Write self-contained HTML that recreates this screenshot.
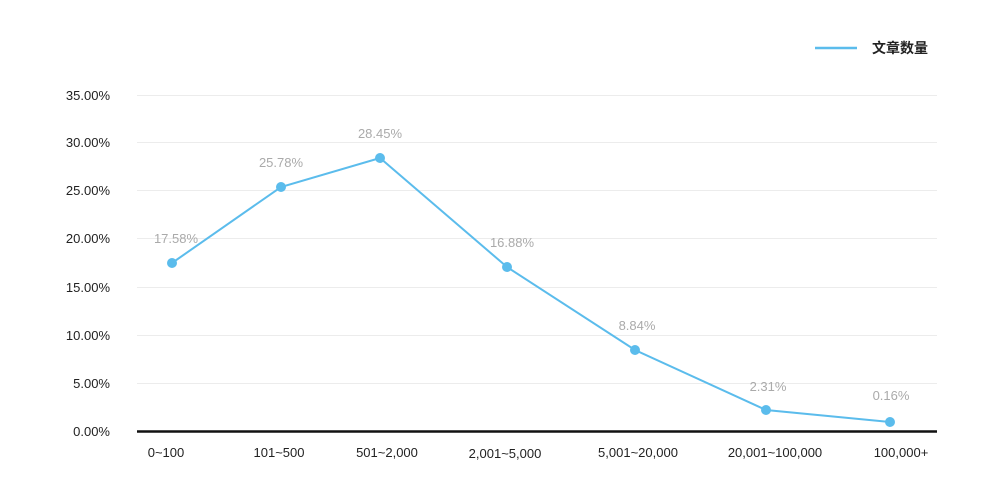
<!DOCTYPE html>
<html><head><meta charset="utf-8"><style>
html,body{margin:0;padding:0;background:#fff;}
svg{display:block}
text{font-family:"Liberation Sans","Noto Sans CJK SC",sans-serif;}
</style></head><body>
<svg width="1000" height="500" xmlns="http://www.w3.org/2000/svg">
<g stroke="#ececec" stroke-width="1">
<line x1="137" y1="95.5" x2="937" y2="95.5"/>
<line x1="137" y1="142.5" x2="937" y2="142.5"/>
<line x1="137" y1="190.5" x2="937" y2="190.5"/>
<line x1="137" y1="238.5" x2="937" y2="238.5"/>
<line x1="137" y1="287.5" x2="937" y2="287.5"/>
<line x1="137" y1="335.5" x2="937" y2="335.5"/>
<line x1="137" y1="383.5" x2="937" y2="383.5"/>
</g>
<line x1="137" y1="431.5" x2="937" y2="431.5" stroke="#111" stroke-width="2.5"/>
<g font-size="13" fill="#222" text-anchor="end">
<text x="110" y="100">35.00%</text>
<text x="110" y="147">30.00%</text>
<text x="110" y="195">25.00%</text>
<text x="110" y="243">20.00%</text>
<text x="110" y="292">15.00%</text>
<text x="110" y="340">10.00%</text>
<text x="110" y="388">5.00%</text>
<text x="110" y="436">0.00%</text>
</g>
<g font-size="13" fill="#222" text-anchor="middle">
<text x="166" y="457">0~100</text>
<text x="279" y="457">101~500</text>
<text x="387" y="457">501~2,000</text>
<text x="505" y="458">2,001~5,000</text>
<text x="638" y="457">5,001~20,000</text>
<text x="775" y="457">20,001~100,000</text>
<text x="901" y="457">100,000+</text>
</g>
<polyline fill="none" stroke="#5bbcec" stroke-width="2" points="172,263 281,187 380,158 507,267 635,350 766,410 890,422"/>
<g fill="#5bbcec">
<circle cx="172" cy="263" r="5"/><circle cx="281" cy="187" r="5"/><circle cx="380" cy="158" r="5"/>
<circle cx="507" cy="267" r="5"/><circle cx="635" cy="350" r="5"/><circle cx="766" cy="410" r="5"/><circle cx="890" cy="422" r="5"/>
</g>
<g font-size="13" fill="#aaa" text-anchor="middle">
<text x="176" y="243">17.58%</text>
<text x="281" y="167">25.78%</text>
<text x="380" y="138">28.45%</text>
<text x="512" y="247">16.88%</text>
<text x="637" y="330">8.84%</text>
<text x="768" y="391">2.31%</text>
<text x="891" y="400">0.16%</text>
</g>
<line x1="815" y1="48" x2="857" y2="48" stroke="#5bbcec" stroke-width="2.5"/>
<text x="872" y="53" font-size="14" font-weight="bold" fill="#222">文章数量</text>
</svg>
</body></html>
